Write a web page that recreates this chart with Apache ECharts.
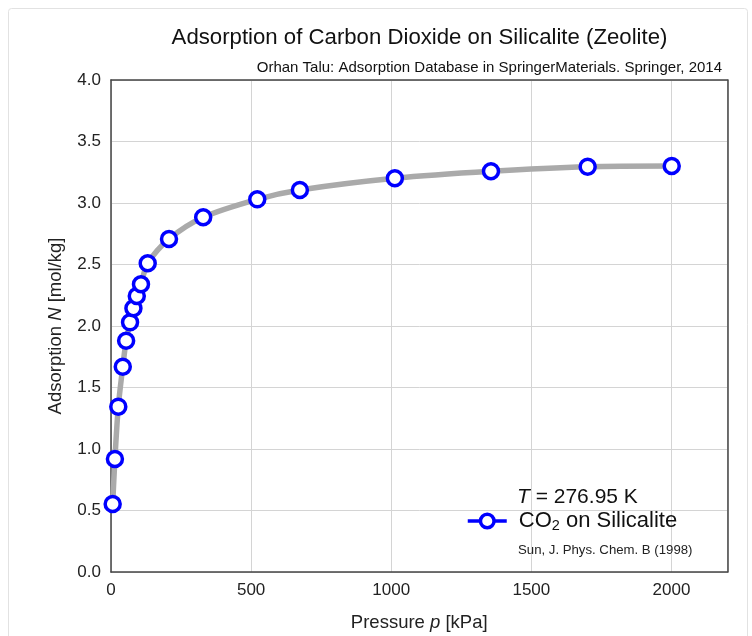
<!DOCTYPE html>
<html>
<head>
<meta charset="utf-8">
<script src="https://cdn.jsdelivr.net/npm/echarts@6/dist/echarts.min.js"></script>
<style>
html,body{margin:0;padding:0;background:#fff;}
#chart{width:752px;height:636px;}
</style>
</head>
<body>
<div id="chart"></div>
<script>
// Data
const pressure = [6, 14, 26, 42, 54, 68, 80, 92, 107, 131, 207, 329, 522, 674, 1013, 1356, 1701, 2001];
const adsorption = [0.553, 0.919, 1.344, 1.669, 1.880, 2.030, 2.144, 2.244, 2.339, 2.510, 2.707, 2.884, 3.030, 3.106, 3.201, 3.258, 3.295, 3.301];
const xTicks = [0, 500, 1000, 1500, 2000];
const yTicks = [0.0, 0.5, 1.0, 1.5, 2.0, 2.5, 3.0, 3.5, 4.0];
const seriesName = 'CO2 on Silicalite';
const titleText = 'Adsorption of Carbon Dioxide on Silicalite (Zeolite)';
const subtitleText = 'Orhan Talu: Adsorption Database in SpringerMaterials. Springer, 2014';
const tempText = '276.95 K';
const sourceText = 'Sun, J. Phys. Chem. B (1998)';

const FONT = '"Liberation Sans", Arial, Helvetica, sans-serif';
const chart = echarts.init(document.getElementById('chart'));
const points = pressure.map((p, i) => [p, adsorption[i]]);

const frameAxis = { show: true, axisLine: { show: true, onZero: false, lineStyle: { color: '#444', width: 1.5 } },
  axisTick: { show: false }, axisLabel: { show: false }, splitLine: { show: false }, z: 10 };

chart.setOption({
  animation: false,
  backgroundColor: '#fff',
  textStyle: { fontFamily: FONT },
  title: [
    { text: titleText, left: 414.5, top: 22, textAlign: 'center',
      textStyle: { fontFamily: FONT, fontSize: 22.2, fontWeight: 'normal', color: '#111' } },
    { text: subtitleText, right: 25, top: 55,
      textStyle: { fontFamily: FONT, fontSize: 15, fontWeight: 'normal', color: '#111' } }
  ],
  grid: { left: 111, right: 24.5, top: 80, bottom: 64, show: false, containLabel: false, outerBoundsMode: 'none' },
  xAxis: [{
    type: 'value', min: 0, max: 2200, interval: 500,
    name: '{a|Pressure }{i|p}{a| [kPa]}', nameLocation: 'middle', nameGap: 41,
    nameTextStyle: { rich: {
      a: { fontFamily: FONT, fontSize: 18.5, color: '#222' },
      i: { fontFamily: FONT, fontSize: 18.5, fontStyle: 'italic', color: '#222' } } },
    axisLine: { show: true, onZero: false, lineStyle: { color: '#444', width: 1.5 } },
    axisTick: { show: false },
    axisLabel: { fontFamily: FONT, fontSize: 17, color: '#222', margin: 10,
      formatter: v => (xTicks.indexOf(v) >= 0 ? String(v) : '') },
    splitLine: { show: true, lineStyle: { color: '#d4d4d4', width: 1 } }
  }, Object.assign({ type: 'value', position: 'top', min: 0, max: 2200 }, frameAxis)],
  yAxis: [{
    type: 'value', min: 0, max: 4, interval: 0.5,
    name: '{a|Adsorption }{i|N}{a| [mol/kg]}', nameLocation: 'middle', nameGap: 46, nameRotate: 90,
    nameTextStyle: { rich: {
      a: { fontFamily: FONT, fontSize: 18.5, color: '#222' },
      i: { fontFamily: FONT, fontSize: 18.5, fontStyle: 'italic', color: '#222' } } },
    axisLine: { show: true, onZero: false, lineStyle: { color: '#444', width: 1.5 } },
    axisTick: { show: false },
    axisLabel: { fontFamily: FONT, fontSize: 17, color: '#222', margin: 10,
      formatter: v => { const t = yTicks.find(y => Math.abs(y - v) < 1e-9); return t === undefined ? '' : t.toFixed(1); } },
    splitLine: { show: true, lineStyle: { color: '#d4d4d4', width: 1 } }
  }, Object.assign({ type: 'value', position: 'right', min: 0, max: 4 }, frameAxis)],
  legend: {
    left: 461, top: 505, orient: 'vertical',
    itemWidth: 39, itemHeight: 17, itemGap: 4,
    data: [{
      name: seriesName,
      itemStyle: { color: '#fff', borderColor: '#0000ff', borderWidth: 3.5 },
      lineStyle: { color: '#0000ff', width: 3.5 }
    }],
    formatter: () => '{sp|}{a|CO}{s|2}{a| on Silicalite}',
    textStyle: { rich: {
      sp: { width: 7 },
      a: { fontFamily: FONT, fontSize: 22, color: '#111' },
      s: { fontFamily: FONT, fontSize: 14.5, color: '#111', verticalAlign: 'bottom', padding: [10, 0, 0, 0] } } }
  },
  graphic: [
    { type: 'rect', silent: true, z: -10, shape: { x: 8.5, y: 8.5, width: 739, height: 660, r: 3 },
      style: { fill: 'none', stroke: '#e2e2e2', lineWidth: 1 } },
    { type: 'text', left: 517, top: 487, z: 100,
      style: { text: '{i|T}{a| = ' + tempText + '}',
        rich: { i: { fontFamily: FONT, fontSize: 21, fontStyle: 'italic', fill: '#111' },
                a: { fontFamily: FONT, fontSize: 21, fill: '#111' } } } },
    { type: 'text', left: 518, top: 544, z: 100,
      style: { text: sourceText, font: '13.2px ' + FONT, fill: '#222' } }
  ],
  series: [{
    name: seriesName,
    type: 'line',
    data: points,
    smooth: 0.3,
    symbol: 'circle',
    symbolSize: 15,
    lineStyle: { color: '#aaaaaa', width: 5.5 },
    itemStyle: { color: '#fff', borderColor: '#0000ff', borderWidth: 3.5 },
    z: 3
  }]
});
</script>
</body>
</html>
